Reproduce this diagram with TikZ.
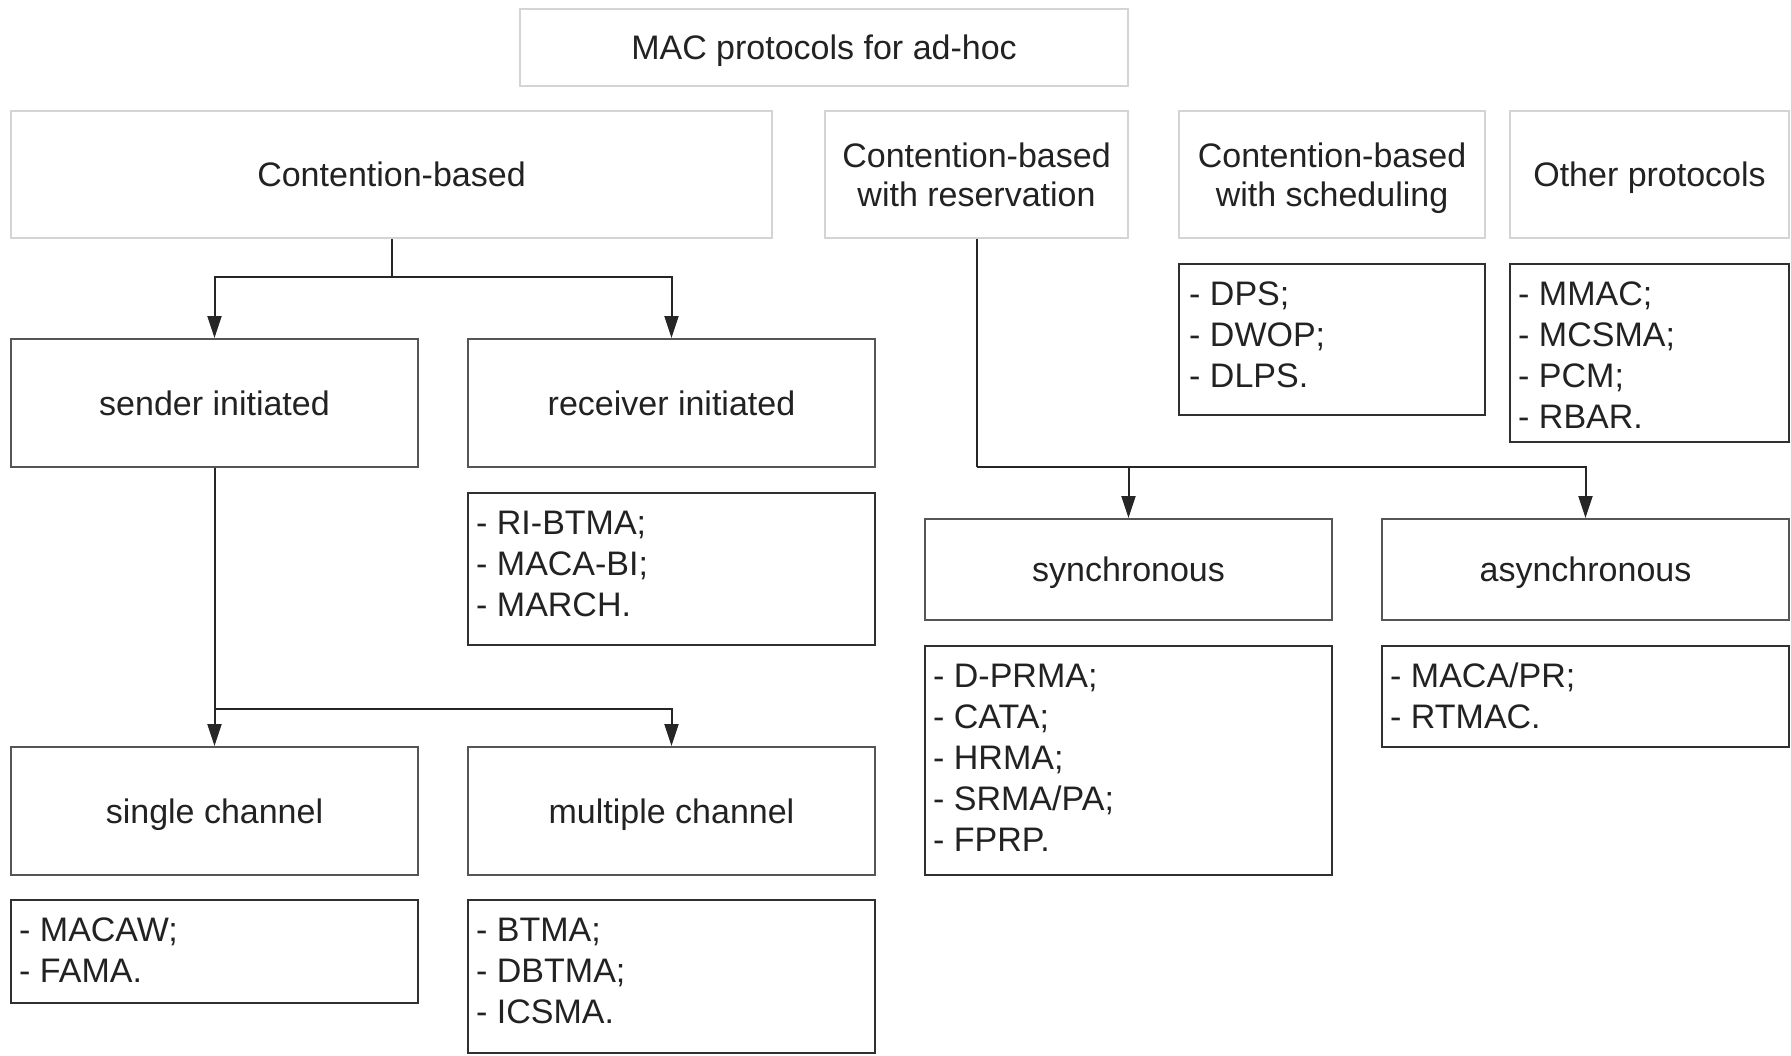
\documentclass[tikz,border=0pt]{standalone}
\usepackage{fontspec}
\setmainfont{Liberation Sans}
\usetikzlibrary{arrows.meta}
\definecolor{txt}{HTML}{222222}
\definecolor{lightb}{HTML}{D4D4D4}
\definecolor{midb}{HTML}{555555}
\definecolor{darkb}{HTML}{303030}
\definecolor{conn}{HTML}{262626}
\tikzset{
  topbox/.style={draw=lightb, line width=2pt, fill=white, inner sep=0pt, align=center, text=txt,
    text depth=0pt, font=\fontsize{34}{39.5}\selectfont},
  catbox/.style={draw=midb, line width=2pt, fill=white, inner sep=0pt, align=center, text=txt,
    text depth=0pt, font=\fontsize{34}{39.5}\selectfont},
  listbox/.style={draw=darkb, line width=2pt, fill=white, inner sep=0pt},
  listtext/.style={anchor=north west, inner sep=0pt, align=left, text=txt,
    font=\fontsize{34}{41}\selectfont},
  conline/.style={draw=conn, line width=2pt},
  conarrow/.style={draw=conn, line width=2pt, -{Triangle[length=22pt, width=14pt]}},
}
\newcommand{\fl}{\rule{0pt}{42pt}}
\begin{document}
\begin{tikzpicture}[x=1pt, y=-1pt]
\useasboundingbox[fill=white] (0,0) rectangle (1791,1055);

% top level
\node[topbox, minimum width=608pt, minimum height=77pt] (top) at (824,47.5) {MAC protocols for ad-hoc};
\node[topbox, minimum width=761pt, minimum height=127pt] (cb) at (391.5,174.5) {Contention-based};
\node[topbox, minimum width=303pt, minimum height=127pt] (res) at (976.5,174.5) {Contention-based\\with reservation};
\node[topbox, minimum width=306pt, minimum height=127pt] (sch) at (1332,174.5) {Contention-based\\with scheduling};
\node[topbox, minimum width=279pt, minimum height=127pt] (oth) at (1649.5,174.5) {Other protocols};

% second level
\node[catbox, minimum width=407pt, minimum height=128pt] (send) at (214.5,403) {sender initiated};
\node[catbox, minimum width=407pt, minimum height=128pt] (recv) at (671.5,403) {receiver initiated};
\node[catbox, minimum width=407pt, minimum height=128pt] (single) at (214.5,811) {single channel};
\node[catbox, minimum width=407pt, minimum height=128pt] (multi) at (671.5,811) {multiple channel};
\node[catbox, minimum width=407pt, minimum height=101pt] (sync) at (1128.5,569.5) {synchronous};
\node[catbox, minimum width=407pt, minimum height=101pt] (async) at (1585.5,569.5) {asynchronous};

% list boxes
\node[listbox, minimum width=407pt, minimum height=152pt] (rilist) at (671.5,569) {};
\node[listbox, minimum width=407pt, minimum height=103pt] (slist) at (214.5,951.5) {};
\node[listbox, minimum width=407pt, minimum height=153pt] (mlist) at (671.5,976.5) {};
\node[listbox, minimum width=407pt, minimum height=229pt] (synclist) at (1128.5,760.5) {};
\node[listbox, minimum width=407pt, minimum height=101pt] (asynclist) at (1585.5,696.5) {};
\node[listbox, minimum width=306pt, minimum height=151pt] (schlist) at (1332,339.5) {};
\node[listbox, minimum width=279pt, minimum height=178pt] (othlist) at (1649.5,353) {};

% list texts
\node[listtext] (rit) at ([xshift=9pt]rilist.north west) {\fl- RI-BTMA;\\- MACA-BI;\\- MARCH.};
\node[listtext] (st) at ([xshift=9pt]slist.north west) {\fl- MACAW;\\- FAMA.};
\node[listtext] (mt) at ([xshift=9pt]mlist.north west) {\fl- BTMA;\\- DBTMA;\\- ICSMA.};
\node[listtext] (synct) at ([xshift=9pt]synclist.north west) {\fl- D-PRMA;\\- CATA;\\- HRMA;\\- SRMA/PA;\\- FPRP.};
\node[listtext] (asynct) at ([xshift=9pt]asynclist.north west) {\fl- MACA/PR;\\- RTMAC.};
\node[listtext] (scht) at ([xshift=11pt]schlist.north west) {\fl- DPS;\\- DWOP;\\- DLPS.};
\node[listtext] (otht) at ([xshift=9pt]othlist.north west) {\fl- MMAC;\\- MCSMA;\\- PCM;\\- RBAR.};

% connectors
\coordinate (j1) at (391.5,276.5);
\draw[conline] (cb.south) -- (j1);
\draw[conarrow] (j1) -| (send.north);
\draw[conarrow] (j1) -| (recv.north);

\coordinate (j2) at (214.5,709);
\draw[conarrow] (send.south) -- (single.north);
\draw[conarrow] (j2) -| (multi.north);

\coordinate (j3) at (976.5,467);
\draw[conline] (res.south) -- (j3);
\draw[conarrow] (j3) -| (sync.north);
\draw[conarrow] (j3) -| (async.north);
\end{tikzpicture}
\end{document}
